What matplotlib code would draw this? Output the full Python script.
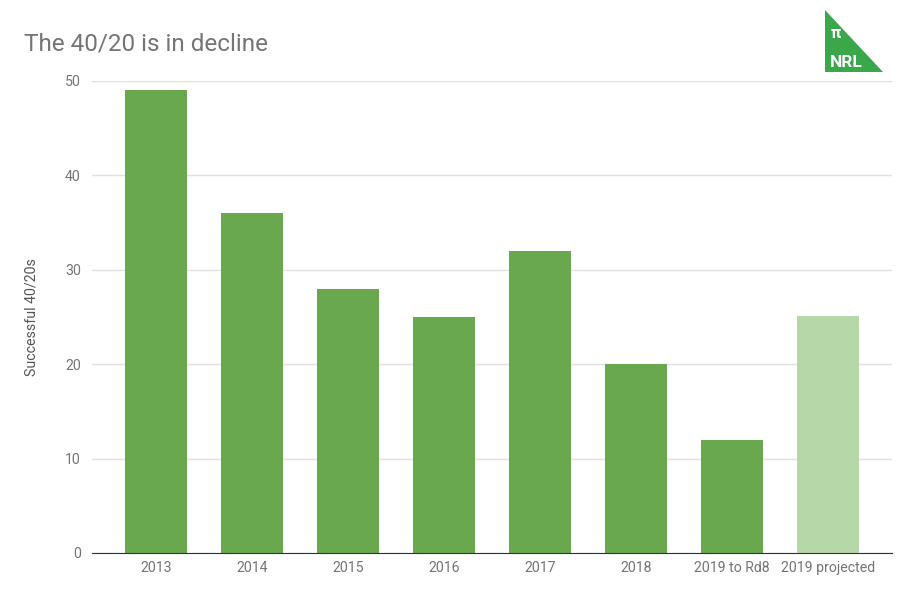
import matplotlib.pyplot as plt
from matplotlib.patches import Polygon

# data
seasons = ['2013', '2014', '2015', '2016', '2017', '2018', '2019 to Rd8', '2019 projected']
successful = [49, 36, 28, 25, 32, 20, 12, 25.1]
projected = [False, False, False, False, False, False, False, True]

plt.rcParams['font.family'] = ['Roboto', 'DejaVu Sans']

W, H = 899, 592
fig = plt.figure(figsize=(W / 100, H / 100), dpi=100)
ax = fig.add_axes([92 / W, (H - 553) / H, 800 / W, (553 - 81) / H])

colors = ['#b6d7a8' if p else '#6aa84f' for p in projected]
x = list(range(len(seasons)))
ax.bar(x, successful, width=0.645, color=colors, zorder=3)

ax.set_ylim(0, 50)
ax.set_xlim(-0.667, 7.667)
ax.set_yticks([0, 10, 20, 30, 40, 50])
ax.set_xticks(x)
ax.set_xticklabels(seasons)
ax.tick_params(axis='both', length=0, labelsize=10.2, colors='#757575')
ax.tick_params(axis='x', pad=6)
ax.tick_params(axis='y', pad=8)
ax.grid(axis='y', color='#e0e0e0', linewidth=1, zorder=0)
for s in ['top', 'right', 'left']:
    ax.spines[s].set_visible(False)
ax.spines['bottom'].set_color('#333333')
ax.spines['bottom'].set_zorder(4)

ax.set_ylabel('Successful 40/20s', fontsize=10.2, color='#555555', labelpad=19)

fig.text(24 / W, 1 - 50 / H, 'The 40/20 is in decline', fontsize=17.5,
         color='#757575', ha='left', va='baseline')

# logo
tri = Polygon([(825 / W, 1 - 10 / H), (825 / W, 1 - 72 / H), (883 / W, 1 - 72 / H)],
              closed=True, transform=fig.transFigure, facecolor='#3aa84a',
              edgecolor='none')
fig.patches.append(tri)
fig.text(831 / W, 1 - 38 / H, 'π', fontsize=11.5, color='white', fontweight='bold',
         ha='left', va='baseline')
fig.text(830 / W, 1 - 67 / H, 'NRL', fontsize=12.5, color='white', fontweight='bold',
         ha='left', va='baseline')

fig.savefig('out.png', dpi=100)
